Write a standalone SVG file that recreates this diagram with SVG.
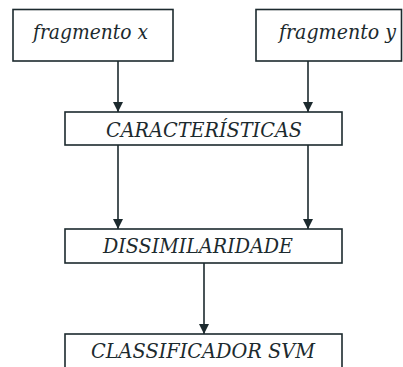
<svg xmlns="http://www.w3.org/2000/svg" width="403" height="367" viewBox="0 0 403 367">
<defs>
<style>
.box{fill:#ffffff;stroke:#1c2a2e;stroke-width:1.6}
.lbl{font-family:"DejaVu Serif","Liberation Serif",serif;font-style:italic;font-size:20px;fill:#1c2a2e}
.conn{stroke:#1c2a2e;stroke-width:1.6;fill:none}
</style>
<marker id="ah" viewBox="0 0 10 10" refX="10" refY="5" markerWidth="10" markerHeight="10" markerUnits="userSpaceOnUse" orient="auto">
<path d="M0,0 L10,5 L0,10 Z" fill="#1c2a2e"/>
</marker>
</defs>
<rect width="403" height="367" fill="#ffffff"/>
<g id="connectors">
<line class="conn" x1="118" y1="61" x2="118" y2="112" marker-end="url(#ah)"/>
<line class="conn" x1="308" y1="61" x2="308" y2="112" marker-end="url(#ah)"/>
<line class="conn" x1="118" y1="145" x2="118" y2="229" marker-end="url(#ah)"/>
<line class="conn" x1="308" y1="145" x2="308" y2="229" marker-end="url(#ah)"/>
<line class="conn" x1="204" y1="263" x2="204" y2="334" marker-end="url(#ah)"/>
</g>
<g id="fragmento-x">
<rect class="box" x="13" y="9.5" width="160" height="51.5"/>
<text class="lbl" x="33" y="38.5" textLength="115" lengthAdjust="spacingAndGlyphs">fragmento x</text>
</g>
<g id="fragmento-y">
<rect class="box" x="256" y="9.5" width="145.5" height="51.5"/>
<text class="lbl" x="279" y="38.5" textLength="117" lengthAdjust="spacingAndGlyphs">fragmento y</text>
</g>
<g id="caracteristicas">
<rect class="box" x="65" y="112" width="277" height="33"/>
<text class="lbl" x="106" y="137" textLength="196" lengthAdjust="spacingAndGlyphs">CARACTERÍSTICAS</text>
</g>
<g id="dissimilaridade">
<rect class="box" x="65" y="229" width="277" height="34"/>
<text class="lbl" x="103" y="253" textLength="190" lengthAdjust="spacingAndGlyphs">DISSIMILARIDADE</text>
</g>
<g id="classificador">
<rect class="box" x="65" y="334" width="277" height="35"/>
<text class="lbl" x="91" y="358" textLength="224" lengthAdjust="spacingAndGlyphs">CLASSIFICADOR SVM</text>
</g>
</svg>
